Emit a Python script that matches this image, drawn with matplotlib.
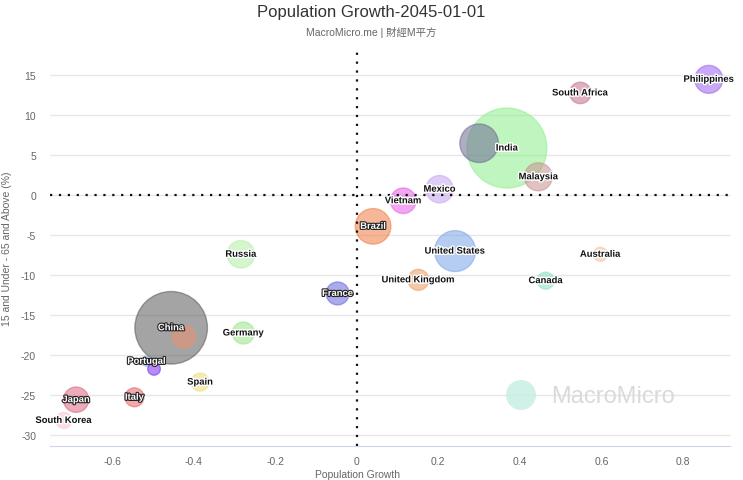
import matplotlib.pyplot as plt
import matplotlib.patheffects as pe
from matplotlib.patches import Circle
from matplotlib.transforms import IdentityTransform

plt.rcParams['font.family'] = ['Liberation Sans Narrow', 'Liberation Sans', 'Noto Sans CJK TC', 'DejaVu Sans']
plt.rcParams['axes.unicode_minus'] = False

countries = ['Philippines', 'South Africa', 'India', '', 'Malaysia', 'Mexico', 'Vietnam', 'Brazil',
             'United States', 'Australia', 'United Kingdom', 'Canada', 'Russia', 'France', 'China', '',
             'Germany', 'Portugal', '', 'Spain', 'Italy', 'Japan', 'South Korea']
growth = [0.863, 0.548, 0.368, 0.300, 0.445, 0.203, 0.114, 0.040,
          0.241, 0.597, 0.151, 0.463, -0.284, -0.047, -0.455, -0.424,
          -0.278, -0.515, -0.497, -0.384, -0.545, -0.688, -0.718]
age_gap = [14.5, 12.8, 5.9, 6.5, 2.3, 0.75, -0.7, -3.9,
           -7.0, -7.4, -10.6, -10.7, -7.4, -12.3, -16.6, -17.7,
           -17.25, -20.8, -21.75, -23.4, -25.3, -25.6, -28.2]
bubble = [196, 115, 1600, 372, 196, 188, 164, 317,
          420, 49, 110, 72, 188, 132, 1318, 128,
          121, 25, 40, 81, 90, 161, 64]
colors = ['#9d62f0', '#c5708f', '#8cf08c', '#6e6a94', '#c89090', '#c8a4f2', '#e85ee8', '#ef7d45',
          '#7aa5e8', '#f7c2a4', '#ee9c62', '#86e0c8', '#b4f0a4', '#6666dd', '#5a5a5a', '#f09070',
          '#98e688', '#7fc4f4', '#7a2cf0', '#ecdc78', '#e86464', '#db6680', '#fbc4dc']
white_labels = ['Brazil', 'France', 'China', 'Japan', 'Italy', 'Portugal']

fig = plt.figure(figsize=(7.43, 4.81), dpi=100)
ax = fig.add_axes([50 / 743, 1 - 447 / 481, 680 / 743, 397 / 481])

sizes = [b * 2.07 for b in bubble]
ax.scatter(growth, age_gap, s=sizes, c=colors, alpha=0.55, edgecolors=colors, linewidths=1, zorder=3)

for name, x, y in zip(countries, growth, age_gap):
    if not name:
        continue
    if name in white_labels:
        ax.text(x, y, name, ha='center', va='center', fontsize=6.8, fontweight='bold', color='white',
                zorder=5, path_effects=[pe.withStroke(linewidth=1.6, foreground='#222222')])
    else:
        ax.text(x, y, name, ha='center', va='center', fontsize=6.8, fontweight='bold', color='#111111',
                zorder=5, path_effects=[pe.withStroke(linewidth=2, foreground='white')])

ax.axhline(0, color='#111111', linestyle=(0, (1, 3)), linewidth=1.6, zorder=4)
ax.axvline(0, color='#111111', linestyle=(0, (1, 3)), linewidth=1.6, zorder=4)

ax.set_xlim(-0.752, 0.915)
ax.set_ylim(-31.4, 18.3)
ax.set_xticks([-0.6, -0.4, -0.2, 0, 0.2, 0.4, 0.6, 0.8])
ax.set_xticklabels(['-0.6', '-0.4', '-0.2', '0', '0.2', '0.4', '0.6', '0.8'])
ax.set_yticks([-30, -25, -20, -15, -10, -5, 0, 5, 10, 15])
ax.tick_params(axis='x', length=0, labelsize=7.5, labelcolor='#666666', pad=7)
ax.tick_params(axis='y', length=0, labelsize=7.5, labelcolor='#666666', pad=10)
ax.grid(axis='y', color='#e6e6e6', linewidth=1, zorder=0)
for side in ['top', 'right', 'left']:
    ax.spines[side].set_visible(False)
ax.spines['bottom'].set_color('#ccd6eb')
ax.set_xlabel('Population Growth', fontsize=7.5, color='#666666')
ax.set_ylabel('15 and Under - 65 and Above (%)', fontsize=7.5, color='#666666')
ax.xaxis.set_label_coords(0.452, -0.057)
ax.yaxis.set_label_coords(-0.056, 0.5)

# watermark
fig.patches.append(Circle((521, 481 - 396), 15, transform=IdentityTransform(),
                          facecolor='#c8efe4', edgecolor='none', alpha=0.85))
fig.text(551 / 743, 1 - 397 / 481, 'MacroMicro', fontsize=17, color='#dadada', ha='left', va='center')

fig.text(0.5, 1 - 13 / 481, 'Population Growth-2045-01-01', fontsize=12, color='#333333', ha='center', va='center')
fig.text(0.5, 1 - 33 / 481, 'MacroMicro.me | 財經M平方', fontsize=7.5, color='#666666', ha='center', va='center')

fig.savefig('out.png', dpi=100)
